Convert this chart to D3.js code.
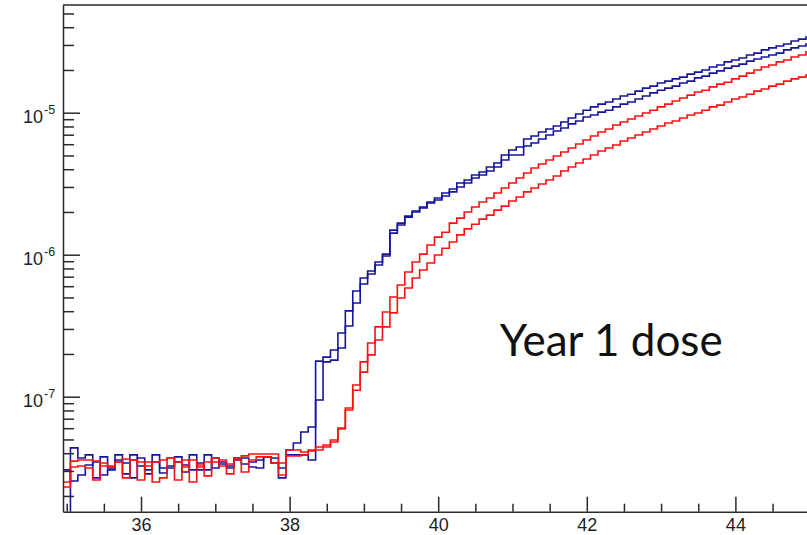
<!DOCTYPE html>
<html>
<head>
<meta charset="utf-8">
<script src="https://cdn.jsdelivr.net/npm/d3@7"></script>
<style>
  html, body { margin: 0; padding: 0; background: #fff; }
  svg { display: block; }
  .tick-label { font-family: "Liberation Sans", Arial, sans-serif; fill: #1e1e1e; }
  .note { font-family: Lato, "Open Sans", sans-serif; fill: #111; }
</style>
</head>
<body>
<svg id="chart" width="807" height="535"></svg>
<script>
/* ---------- data ---------- */
const xDomain = [34.95, 45.05];
const yDomain = [1.549e-8, 5.735e-5];
const binLow = 34.95, binWidth = 0.1;

const xMajorTicks = [36, 38, 40, 42, 44];
const xTickLabels = ["36", "38", "40", "42", "44"];
const yMajorTicks = [1e-7, 1e-6, 1e-5];
const yTickLabels = [["10", "-7"], ["10", "-6"], ["10", "-5"]];

const blueA = [
  3.05e-8, 2.55e-8, 2.81e-8, 3.30e-8, 3.47e-8, 2.81e-8, 3.05e-8, 3.58e-8, 3.41e-8, 2.68e-8,
  3.70e-8, 3.05e-8, 3.47e-8, 3.15e-8, 3.15e-8, 3.77e-8, 3.30e-8, 3.05e-8, 3.41e-8, 3.05e-8,
  3.70e-8, 3.36e-8, 3.15e-8, 3.58e-8, 3.70e-8, 3.47e-8, 3.58e-8, 3.77e-8, 3.41e-8, 3.15e-8,
  4.21e-8, 4.72e-8, 5.64e-8, 6.12e-8, 1.78e-7, 1.90e-7, 2.13e-7, 2.81e-7, 4.02e-7, 5.55e-7,
  6.86e-7, 7.68e-7, 8.89e-7, 1.01e-6, 1.49e-6, 1.67e-6, 1.87e-6, 2.03e-6, 2.17e-6, 2.35e-6,
  2.51e-6, 2.72e-6, 2.90e-6, 3.20e-6, 3.36e-6, 3.64e-6, 3.82e-6, 4.15e-6, 4.42e-6, 5.04e-6,
  5.46e-6, 5.73e-6, 6.53e-6, 6.86e-6, 7.31e-6, 7.68e-6, 8.06e-6, 8.61e-6, 9.18e-6, 9.79e-6,
  1.04e-5, 1.10e-5, 1.15e-5, 1.19e-5, 1.25e-5, 1.31e-5, 1.35e-5, 1.42e-5, 1.49e-5, 1.54e-5,
  1.62e-5, 1.67e-5, 1.73e-5, 1.78e-5, 1.87e-5, 1.93e-5, 2.00e-5, 2.10e-5, 2.17e-5, 2.28e-5,
  2.35e-5, 2.43e-5, 2.55e-5, 2.63e-5, 2.77e-5, 2.86e-5, 2.95e-5, 3.05e-5, 3.20e-5, 3.30e-5,
  3.41e-5
];

const blueB = [
  0,       4.36e-8, 3.70e-8, 3.89e-8, 2.68e-8, 3.77e-8, 3.15e-8, 3.89e-8, 2.86e-8, 3.89e-8,
  3.25e-8, 2.86e-8, 3.89e-8, 2.90e-8, 3.25e-8, 3.47e-8, 2.95e-8, 3.89e-8, 3.05e-8, 3.89e-8,
  3.15e-8, 3.47e-8, 3.25e-8, 3.70e-8, 3.36e-8, 3.20e-8, 3.15e-8, 3.77e-8, 3.70e-8, 2.68e-8,
  3.89e-8, 3.89e-8, 3.89e-8, 3.58e-8, 9.48e-8, 1.76e-7, 1.81e-7, 2.20e-7, 3.15e-7, 4.57e-7,
  6.22e-7, 7.31e-7, 8.46e-7, 9.79e-7, 1.42e-6, 1.62e-6, 1.84e-6, 2.00e-6, 2.13e-6, 2.31e-6,
  2.43e-6, 2.59e-6, 2.77e-6, 3.00e-6, 3.20e-6, 3.47e-6, 3.64e-6, 3.89e-6, 4.15e-6, 4.64e-6,
  5.04e-6, 5.04e-6, 5.83e-6, 6.12e-6, 6.53e-6, 6.97e-6, 7.43e-6, 7.80e-6, 8.34e-6, 8.75e-6,
  9.33e-6, 9.63e-6, 1.01e-5, 1.04e-5, 1.10e-5, 1.15e-5, 1.19e-5, 1.25e-5, 1.31e-5, 1.38e-5,
  1.44e-5, 1.49e-5, 1.54e-5, 1.62e-5, 1.67e-5, 1.76e-5, 1.81e-5, 1.90e-5, 1.97e-5, 2.06e-5,
  2.13e-5, 2.20e-5, 2.31e-5, 2.39e-5, 2.47e-5, 2.55e-5, 2.63e-5, 2.77e-5, 2.86e-5, 2.95e-5,
  3.05e-5
];

const redA = [
  2.51e-8, 3.52e-8, 3.58e-8, 3.58e-8, 3.52e-8, 3.25e-8, 3.25e-8, 3.47e-8, 3.64e-8, 3.58e-8,
  3.47e-8, 3.25e-8, 3.47e-8, 3.58e-8, 3.70e-8, 3.47e-8, 3.20e-8, 3.58e-8, 3.30e-8, 3.47e-8,
  3.70e-8, 3.58e-8, 3.36e-8, 3.70e-8, 3.83e-8, 3.95e-8, 3.95e-8, 3.95e-8, 3.95e-8, 3.41e-8,
  4.21e-8, 4.21e-8, 4.08e-8, 4.21e-8, 4.42e-8, 4.57e-8, 4.96e-8, 6.02e-8, 8.32e-8, 1.21e-7,
  1.76e-7, 2.39e-7, 3.10e-7, 3.95e-7, 5.04e-7, 6.12e-7, 7.55e-7, 8.89e-7, 1.01e-6, 1.17e-6,
  1.33e-6, 1.44e-6, 1.67e-6, 1.81e-6, 2.00e-6, 2.17e-6, 2.35e-6, 2.51e-6, 2.72e-6, 2.95e-6,
  3.20e-6, 3.47e-6, 3.76e-6, 4.08e-6, 4.35e-6, 4.64e-6, 4.96e-6, 5.29e-6, 5.64e-6, 6.02e-6,
  6.42e-6, 6.86e-6, 7.31e-6, 7.68e-6, 8.20e-6, 8.61e-6, 9.03e-6, 9.48e-6, 9.95e-6, 1.04e-5,
  1.10e-5, 1.15e-5, 1.21e-5, 1.27e-5, 1.33e-5, 1.40e-5, 1.44e-5, 1.52e-5, 1.59e-5, 1.64e-5,
  1.73e-5, 1.81e-5, 1.90e-5, 2.00e-5, 2.10e-5, 2.17e-5, 2.28e-5, 2.35e-5, 2.47e-5, 2.55e-5,
  2.68e-5
];

const redB = [
  2.31e-8, 3.20e-8, 3.25e-8, 3.15e-8, 2.59e-8, 3.41e-8, 3.20e-8, 3.47e-8, 2.68e-8, 3.58e-8,
  2.59e-8, 3.47e-8, 2.51e-8, 2.68e-8, 3.70e-8, 2.59e-8, 3.58e-8, 2.51e-8, 3.20e-8, 2.77e-8,
  3.47e-8, 3.25e-8, 2.86e-8, 3.58e-8, 2.95e-8, 3.58e-8, 3.77e-8, 3.77e-8, 3.41e-8, 2.81e-8,
  3.83e-8, 3.83e-8, 3.89e-8, 4.15e-8, 4.21e-8, 4.42e-8, 4.80e-8, 5.92e-8, 8.06e-8, 1.11e-7,
  1.49e-7, 1.97e-7, 2.51e-7, 3.10e-7, 3.89e-7, 4.96e-7, 5.83e-7, 6.86e-7, 7.80e-7, 8.75e-7,
  9.95e-7, 1.11e-6, 1.23e-6, 1.38e-6, 1.52e-6, 1.64e-6, 1.78e-6, 1.90e-6, 2.06e-6, 2.20e-6,
  2.39e-6, 2.55e-6, 2.77e-6, 2.95e-6, 3.15e-6, 3.36e-6, 3.58e-6, 3.89e-6, 4.15e-6, 4.42e-6,
  4.72e-6, 5.04e-6, 5.37e-6, 5.64e-6, 5.92e-6, 6.32e-6, 6.64e-6, 6.97e-6, 7.31e-6, 7.68e-6,
  8.06e-6, 8.47e-6, 8.75e-6, 9.18e-6, 9.63e-6, 9.95e-6, 1.04e-5, 1.10e-5, 1.13e-5, 1.19e-5,
  1.25e-5, 1.29e-5, 1.35e-5, 1.42e-5, 1.47e-5, 1.54e-5, 1.59e-5, 1.67e-5, 1.73e-5, 1.78e-5,
  1.84e-5
];

const series = [
  { name: "blueA", values: blueA, color: "#14149c" },
  { name: "blueB", values: blueB, color: "#14149c" },
  { name: "redA",  values: redA,  color: "#ff1010" },
  { name: "redB",  values: redB,  color: "#ff1010" }
];

/* ---------- frame ---------- */
const svg = d3.select("#chart");
const frame = { left: 63, top: 5, bottom: 511.7, right: 813.4 };

const x = d3.scaleLinear().domain(xDomain).range([frame.left, frame.right]);
const y = d3.scaleLog().domain(yDomain).range([frame.bottom, frame.top]);

svg.append("clipPath").attr("id", "plot-clip")
  .append("rect")
  .attr("x", frame.left).attr("y", frame.top)
  .attr("width", frame.right - frame.left).attr("height", frame.bottom - frame.top);

/* ---------- histograms (step lines) ---------- */
function stepPoints(values) {
  const pts = values.map((v, i) => [binLow + i * binWidth, v]);
  pts.push([binLow + values.length * binWidth, values[values.length - 1]]);
  return pts;
}

const stepLine = d3.line()
  .x(d => x(d[0]))
  .y(d => y(Math.max(d[1], yDomain[0] * 0.9)))
  .curve(d3.curveStepAfter);

const plot = svg.append("g").attr("clip-path", "url(#plot-clip)");

plot.selectAll("path.hist")
  .data(series)
  .join("path")
  .attr("class", "hist")
  .attr("fill", "none")
  .attr("stroke", d => d.color)
  .attr("stroke-width", 1.6)
  .attr("stroke-linejoin", "miter")
  .attr("d", d => stepLine(stepPoints(d.values)));

/* ---------- axes (ROOT style, ticks inside) ---------- */
const axisColor = "#2a2a2a";

const xAxis = d3.axisBottom(x)
  .tickValues(xMajorTicks)
  .tickFormat((d, i) => xTickLabels[i])
  .tickSizeInner(-15).tickSizeOuter(0).tickPadding(0);

const xMinor = d3.range(35, 45.01, 0.5).filter(v => !xMajorTicks.includes(v));
const xAxisMinor = d3.axisBottom(x)
  .tickValues(xMinor).tickFormat("")
  .tickSizeInner(-8).tickSizeOuter(0);

const gx = svg.append("g").attr("transform", `translate(0,${frame.bottom})`).call(xAxis);
svg.append("g").attr("transform", `translate(0,${frame.bottom})`).call(xAxisMinor)
  .select(".domain").remove();

gx.selectAll("text")
  .attr("class", "tick-label")
  .attr("font-size", 18)
  .attr("y", 19.5)
  .attr("dy", 0);

const yMinor = [];
[-8, -7, -6, -5].forEach(p => {
  for (let m = 2; m <= 9; m++) {
    const v = m * Math.pow(10, p);
    if (v > yDomain[0] && v < yDomain[1]) yMinor.push(v);
  }
});

const yAxis = d3.axisLeft(y)
  .tickValues(yMajorTicks).tickFormat("")
  .tickSizeInner(-17).tickSizeOuter(0);
const yAxisMinor = d3.axisLeft(y)
  .tickValues(yMinor).tickFormat("")
  .tickSizeInner(-11).tickSizeOuter(0);

svg.append("g").attr("transform", `translate(${frame.left},0)`).call(yAxis);
svg.append("g").attr("transform", `translate(${frame.left},0)`).call(yAxisMinor)
  .select(".domain").remove();

svg.selectAll(".domain, .tick line")
  .attr("stroke", axisColor)
  .attr("stroke-width", 1.5);

// y labels with superscript exponents
const yLab = svg.append("g").selectAll("text")
  .data(yMajorTicks)
  .join("text")
  .attr("class", "tick-label")
  .attr("x", 23)
  .attr("y", d => y(d) + 10)
  .attr("font-size", 18);
yLab.append("tspan").text((d, i) => yTickLabels[i][0]);
yLab.append("tspan")
  .attr("dx", 1).attr("dy", -9)
  .attr("font-size", 12.5)
  .text((d, i) => yTickLabels[i][1]);

// top border of the frame
svg.append("line")
  .attr("x1", frame.left).attr("x2", frame.right)
  .attr("y1", frame.top).attr("y2", frame.top)
  .attr("stroke", axisColor).attr("stroke-width", 1.5);

/* ---------- annotation ---------- */
svg.append("text")
  .attr("class", "note")
  .attr("x", x(40.83)).attr("y", y(1.94e-7))
  .attr("font-size", 44)
  .text("Year 1 dose");
</script>
</body>
</html>
